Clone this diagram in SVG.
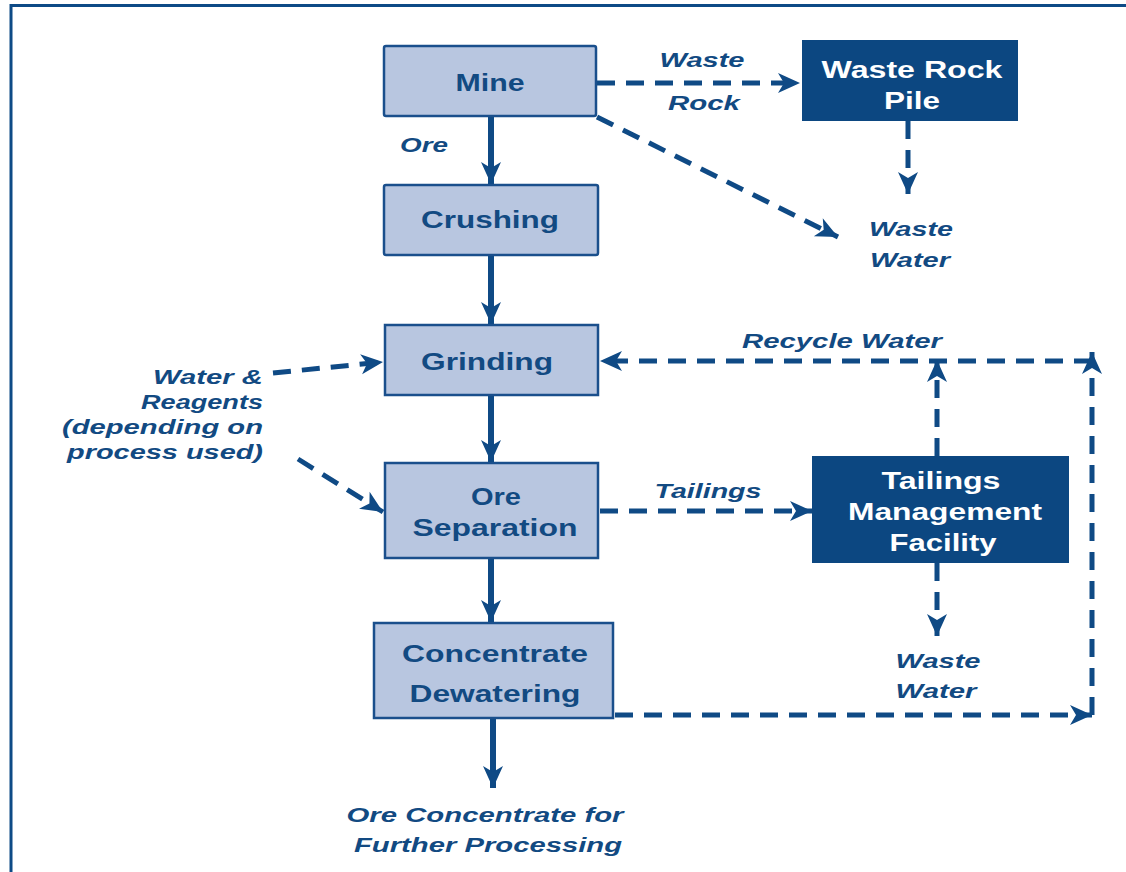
<svg xmlns="http://www.w3.org/2000/svg" width="1126" height="872" viewBox="0 0 1126 872">
<style>
.box{fill:#b8c6e0;stroke:#1a4f8c;stroke-width:2.5}
.dbox{fill:#0c4781;stroke:none}
.t{font-family:"Liberation Sans",Arial,sans-serif;font-weight:bold;font-size:23px;fill:#124a82;text-anchor:middle}
.w{fill:#ffffff}
.i{font-family:"Liberation Sans",Arial,sans-serif;font-weight:bold;font-style:italic;font-size:21px;fill:#124a82;text-anchor:middle}
.r{text-anchor:end}
.solid{stroke:#0f4a85;stroke-width:6;fill:none}
.dash{stroke:#0f4a85;stroke-width:5;fill:none;stroke-dasharray:18 11}
</style>
<defs>
<marker id="ah" markerUnits="userSpaceOnUse" markerWidth="26" markerHeight="24" viewBox="-2 -12 26 24" refX="22" refY="0" orient="auto">
<path d="M0,-10 L22,0 L0,10 L6,0 Z" fill="#0f4a85"/>
</marker>
</defs>
<rect width="1126" height="872" fill="#ffffff"/>
<path d="M11,872 V5.5 H1126" fill="none" stroke="#0d4a86" stroke-width="3"/>

<g id="connectors">
<line class="solid" x1="491" y1="117" x2="491" y2="184" marker-end="url(#ah)"/>
<line class="solid" x1="491" y1="255" x2="491" y2="324" marker-end="url(#ah)"/>
<line class="solid" x1="491" y1="395" x2="491" y2="462" marker-end="url(#ah)"/>
<line class="solid" x1="491" y1="558" x2="491" y2="622" marker-end="url(#ah)"/>
<line class="solid" x1="493" y1="718" x2="493" y2="788" marker-end="url(#ah)"/>
<line class="dash" x1="597" y1="83" x2="800" y2="83" marker-end="url(#ah)"/>
<line class="dash" x1="597" y1="117" x2="838" y2="237" marker-end="url(#ah)"/>
<line class="dash" x1="908" y1="121" x2="908" y2="194" marker-end="url(#ah)"/>
<line class="dash" x1="273" y1="373" x2="383" y2="362" marker-end="url(#ah)"/>
<line class="dash" x1="298" y1="459" x2="383" y2="512" marker-end="url(#ah)"/>
<line class="dash" x1="600" y1="511" x2="812" y2="511" marker-end="url(#ah)"/>
<line class="dash" x1="1092" y1="361" x2="600" y2="361" marker-end="url(#ah)"/>
<line class="dash" x1="937" y1="456" x2="937" y2="360" marker-end="url(#ah)"/>
<line class="dash" x1="937" y1="563" x2="937" y2="636" marker-end="url(#ah)"/>
<line class="dash" x1="615" y1="715" x2="1092" y2="715" marker-end="url(#ah)"/>
<line class="dash" x1="1092" y1="715" x2="1092" y2="352" marker-end="url(#ah)"/>
</g>

<g id="mine">
<rect class="box" x="384" y="46" width="212" height="70" rx="2"/>
<text class="t" x="490" y="91" textLength="69" lengthAdjust="spacingAndGlyphs">Mine</text>
</g>
<g id="crushing">
<rect class="box" x="384" y="185" width="214" height="70" rx="2"/>
<text class="t" x="490" y="228" textLength="138" lengthAdjust="spacingAndGlyphs">Crushing</text>
</g>
<g id="grinding">
<rect class="box" x="385" y="325" width="213" height="70"/>
<text class="t" x="487" y="370" textLength="132" lengthAdjust="spacingAndGlyphs">Grinding</text>
</g>
<g id="ore-separation">
<rect class="box" x="385" y="463" width="213" height="95"/>
<text class="t" x="496" y="505" textLength="50" lengthAdjust="spacingAndGlyphs">Ore</text>
<text class="t" x="495" y="536" textLength="165" lengthAdjust="spacingAndGlyphs">Separation</text>
</g>
<g id="concentrate-dewatering">
<rect class="box" x="374" y="623" width="239" height="95"/>
<text class="t" x="495" y="662" textLength="186" lengthAdjust="spacingAndGlyphs">Concentrate</text>
<text class="t" x="495" y="702" textLength="171" lengthAdjust="spacingAndGlyphs">Dewatering</text>
</g>
<g id="waste-rock-pile">
<rect class="dbox" x="802" y="40" width="216" height="81"/>
<text class="t w" x="912" y="78" textLength="181" lengthAdjust="spacingAndGlyphs">Waste Rock</text>
<text class="t w" x="912" y="109" textLength="56" lengthAdjust="spacingAndGlyphs">Pile</text>
</g>
<g id="tailings-management-facility">
<rect class="dbox" x="812" y="456" width="257" height="107"/>
<text class="t w" x="941" y="489" textLength="119" lengthAdjust="spacingAndGlyphs">Tailings</text>
<text class="t w" x="945" y="520" textLength="194" lengthAdjust="spacingAndGlyphs">Management</text>
<text class="t w" x="943" y="551" textLength="107" lengthAdjust="spacingAndGlyphs">Facility</text>
</g>

<g id="labels">
<text class="i" x="702" y="67" textLength="85" lengthAdjust="spacingAndGlyphs">Waste</text>
<text class="i" x="704" y="110" textLength="72" lengthAdjust="spacingAndGlyphs">Rock</text>
<text class="i" x="424" y="152" textLength="48" lengthAdjust="spacingAndGlyphs">Ore</text>
<text class="i" x="911" y="236" textLength="84" lengthAdjust="spacingAndGlyphs">Waste</text>
<text class="i" x="910" y="267" textLength="80" lengthAdjust="spacingAndGlyphs">Water</text>
<text class="i" x="842" y="348" textLength="200" lengthAdjust="spacingAndGlyphs">Recycle Water</text>
<text class="i" x="708" y="498" textLength="107" lengthAdjust="spacingAndGlyphs">Tailings</text>
<text class="i" x="938" y="668" textLength="85" lengthAdjust="spacingAndGlyphs">Waste</text>
<text class="i" x="936" y="698" textLength="81" lengthAdjust="spacingAndGlyphs">Water</text>
<text class="i r" x="263" y="384" textLength="110" lengthAdjust="spacingAndGlyphs">Water &amp;</text>
<text class="i r" x="263" y="409" textLength="122" lengthAdjust="spacingAndGlyphs">Reagents</text>
<text class="i r" x="263" y="434" textLength="201" lengthAdjust="spacingAndGlyphs">(depending on</text>
<text class="i r" x="263" y="459" textLength="196" lengthAdjust="spacingAndGlyphs">process used)</text>
<text class="i" x="485" y="822" textLength="277" lengthAdjust="spacingAndGlyphs">Ore Concentrate for</text>
<text class="i" x="488" y="852" textLength="268" lengthAdjust="spacingAndGlyphs">Further Processing</text>
</g>
</svg>
